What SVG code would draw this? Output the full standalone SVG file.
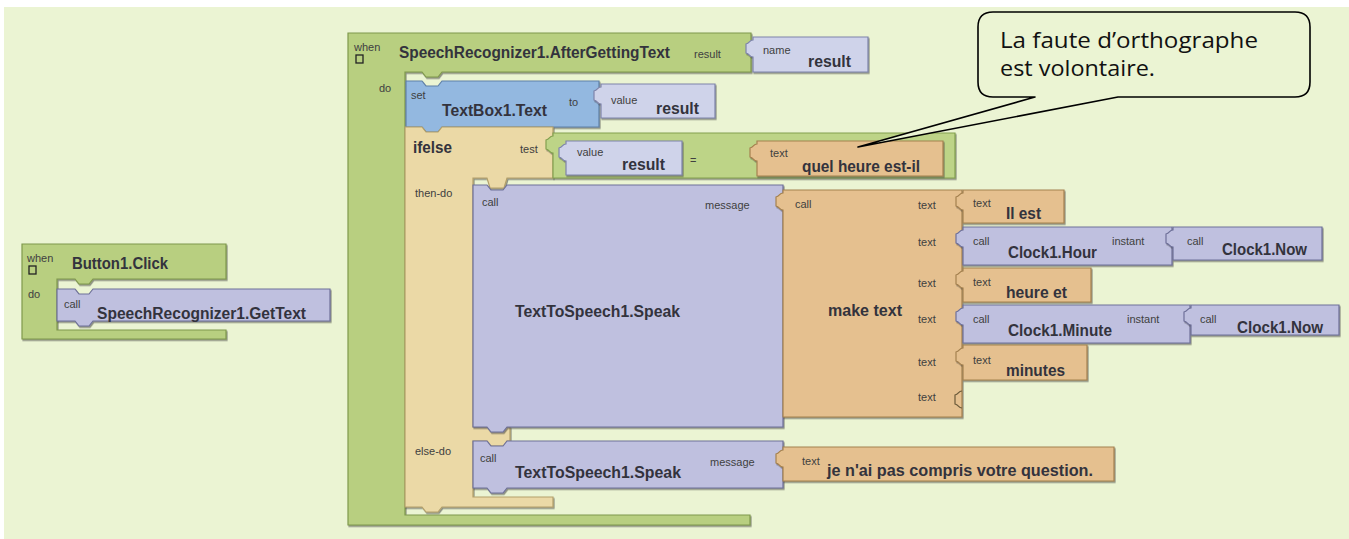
<svg xmlns="http://www.w3.org/2000/svg" width="1349" height="539" viewBox="0 0 1349 539">
<defs>
<filter id="sh" x="-5%" y="-5%" width="110%" height="115%">
<feDropShadow dx="1" dy="1.5" stdDeviation="0.4" flood-color="#404040" flood-opacity="0.55"/>
</filter>
</defs>
<style>
.blk{stroke-width:1.2;filter:url(#sh)}
.g{fill:#b8cf80;stroke:#7f984c}
.g2{fill:#bdd487;stroke:#83a050}
.tan{fill:#ebd9a6;stroke:#b3a06a}
.blue{fill:#93b8e0;stroke:#5f80a8}
.val{fill:#cfd3ea;stroke:#7e84aa}
.pur{fill:#bfc0df;stroke:#6e7099}
.txt{fill:#e5c08f;stroke:#a4814f}
.s{font-family:"Liberation Sans",Arial,sans-serif;font-size:11px;fill:#404040}
.b{font-family:"Liberation Sans",Arial,sans-serif;font-size:16px;font-weight:bold;fill:#33333d}
.sock{fill:none;stroke:#6b5a3a;stroke-width:1.2}
.call{font-family:"Open Sans","Noto Sans",sans-serif;font-size:21px;fill:#111}
</style>
<rect x="0" y="0" width="1349" height="539" fill="#ffffff"/>
<rect x="4" y="7" width="1345" height="532" fill="#ebf4d3"/>

<g id="connectors"></g>

<!-- Button1.Click event -->
<g id="button1-click">
<path class="blk g" d="M22,244 H226 V279 H93 l-4,5 h-10 l-4,-5 H57 V330 H226 V339 H22 Z"/>
<text class="s" x="27" y="262" font-size="10">when</text>
<rect x="29" y="266" width="7" height="8" fill="none" stroke="#222" stroke-width="1.3"/>
<text class="b" x="72" y="269" textLength="96" lengthAdjust="spacingAndGlyphs">Button1.Click</text>
<text class="s" x="28" y="298">do</text>
</g>
<g id="getText">
<path class="blk pur" d="M57,289 H75 l4,5 h10 l4,-5 H330 V321 H93 l-4,5 h-10 l-4,-5 H57 Z"/>
<text class="s" x="64" y="308">call</text>
<text class="b" x="97" y="319" textLength="209" lengthAdjust="spacingAndGlyphs">SpeechRecognizer1.GetText</text>
</g>

<!-- AfterGettingText event -->
<g id="after-getting-text">
<path class="blk g" d="M348,33 H751 V72 H442 l-4,5 h-12 l-4,-5 H405 V515 H750 V525 H348 Z"/>
<text class="s" x="354" y="51" font-size="10">when</text>
<rect x="356" y="55" width="7" height="8" fill="none" stroke="#222" stroke-width="1.3"/>
<text class="b" x="399" y="58" textLength="271" lengthAdjust="spacingAndGlyphs">SpeechRecognizer1.AfterGettingText</text>
<text class="s" x="694" y="58">result</text>
<text class="s" x="379" y="92">do</text>
</g>
<g id="name-result">
<path class="blk val" d="M753,37 H868 V72 H753 V57 C749,57 750,54 746,53 V44 C750,43 749,40 753,40 Z"/>
<text class="s" x="763" y="54">name</text>
<text class="b" x="808" y="67" textLength="43" lengthAdjust="spacingAndGlyphs">result</text>
</g>

<!-- set TextBox1.Text -->
<g id="set-textbox">
<path class="blk blue" d="M406,81 H422 l4,5 h12 l4,-5 H599 V127 H442 l-4,5 h-12 l-4,-5 H406 Z"/>
<text class="s" x="411" y="99">set</text>
<text class="b" x="442" y="116" textLength="105" lengthAdjust="spacingAndGlyphs">TextBox1.Text</text>
<text class="s" x="569" y="106">to</text>
</g>
<g id="set-value">
<path class="blk val" d="M601,84 H715 V118 H601 V104 C597,104 598,101 594,100 V91 C598,90 597,87 601,87 Z"/>
<text class="s" x="611" y="104">value</text>
<text class="b" x="656" y="114" textLength="43" lengthAdjust="spacingAndGlyphs">result</text>
</g>

<!-- ifelse -->
<g id="ifelse">
<path class="blk tan" d="M405,127 H422 l4,5 h12 l4,-5 H553 V178 H507 l-3,10 h-14 l-3,-10 H473 V427 H510 V441 H507 l-3,5 h-14 l-3,-5 H473 V497 H553 V507 H442 l-4,5 h-12 l-4,-5 H405 Z"/>
<text class="b" x="413" y="153" font-size="17" textLength="39" lengthAdjust="spacingAndGlyphs">ifelse</text>
<text class="s" x="520" y="153">test</text>
<text class="s" x="415" y="197">then-do</text>
<text class="s" x="415" y="455">else-do</text>
</g>

<!-- equality -->
<g id="equals">
<path class="blk g2" d="M553,133 H955 V178 H553 V153 C549,153 550,150 546,149 V140 C550,139 549,136 553,136 Z"/>
<text class="s" x="690" y="164" font-size="12">=</text>
</g>
<g id="eq-value">
<path class="blk val" d="M566,141 H682 V175 H566 V161 C562,161 563,158 559,157 V148 C563,147 562,144 566,144 Z"/>
<text class="s" x="577" y="156">value</text>
<text class="b" x="622" y="170" textLength="43" lengthAdjust="spacingAndGlyphs">result</text>
</g>
<g id="eq-text">
<path class="blk txt" d="M757,141 H943 V176 H757 V161 C753,161 754,158 750,157 V148 C754,147 753,144 757,144 Z"/>
<text class="s" x="770" y="157">text</text>
<text class="b" x="802" y="172" textLength="118" lengthAdjust="spacingAndGlyphs">quel heure est-il</text>
</g>

<!-- then-do speak -->
<g id="speak-then">
<path class="blk pur" d="M473,185 H487 l4,5 h12 l4,-5 H783 V427 H507 l-4,5 h-12 l-4,-5 H473 Z"/>
<text class="s" x="482" y="206">call</text>
<text class="s" x="705" y="209">message</text>
<text class="b" x="515" y="317" textLength="165" lengthAdjust="spacingAndGlyphs">TextToSpeech1.Speak</text>
</g>

<!-- make text -->
<g id="make-text">
<path class="blk txt" d="M783,190 H962 V417 H783 V210 C779,210 780,207 776,206 V197 C780,196 779,193 783,193 Z"/>
<text class="s" x="795" y="208">call</text>
<text class="b" x="828" y="316" textLength="74" lengthAdjust="spacingAndGlyphs">make text</text>
<text class="s" x="918" y="209">text</text>
<text class="s" x="918" y="246">text</text>
<text class="s" x="918" y="287">text</text>
<text class="s" x="918" y="323">text</text>
<text class="s" x="918" y="366">text</text>
<text class="s" x="918" y="401">text</text>
<path class="sock" d="M962,391 C958,391 959,394 955,395 V404 C959,405 958,408 962,408"/>
</g>
<g id="t-il-est">
<path class="blk txt" d="M963,190 H1064 V223 H963 V210 C959,210 960,207 956,206 V197 C960,196 959,193 963,193 Z"/>
<text class="s" x="973" y="207">text</text>
<text class="b" x="1006" y="219" textLength="35" lengthAdjust="spacingAndGlyphs">Il est</text>
</g>
<g id="clock-hour">
<path class="blk pur" d="M963,227 H1172 V265 H963 V247 C959,247 960,244 956,243 V234 C960,233 959,230 963,230 Z"/>
<text class="s" x="973" y="245">call</text>
<text class="b" x="1008" y="258" textLength="89" lengthAdjust="spacingAndGlyphs">Clock1.Hour</text>
<text class="s" x="1112" y="245">instant</text>
</g>
<g id="clock-now-1">
<path class="blk pur" d="M1173,227 H1322 V260 H1173 V247 C1169,247 1170,244 1166,243 V234 C1170,233 1169,230 1173,230 Z"/>
<text class="s" x="1187" y="245">call</text>
<text class="b" x="1222" y="255" textLength="85" lengthAdjust="spacingAndGlyphs">Clock1.Now</text>
</g>
<g id="t-heure-et">
<path class="blk txt" d="M963,268 H1091 V302 H963 V288 C959,288 960,285 956,284 V275 C960,274 959,271 963,271 Z"/>
<text class="s" x="973" y="286">text</text>
<text class="b" x="1006" y="298" textLength="61" lengthAdjust="spacingAndGlyphs">heure et</text>
</g>
<g id="clock-minute">
<path class="blk pur" d="M963,305 H1190 V343 H963 V325 C959,325 960,322 956,321 V312 C960,311 959,308 963,308 Z"/>
<text class="s" x="973" y="323">call</text>
<text class="b" x="1008" y="336" textLength="104" lengthAdjust="spacingAndGlyphs">Clock1.Minute</text>
<text class="s" x="1127" y="323">instant</text>
</g>
<g id="clock-now-2">
<path class="blk pur" d="M1191,305 H1339 V335 H1191 V325 C1187,325 1188,322 1184,321 V312 C1188,311 1187,308 1191,308 Z"/>
<text class="s" x="1200" y="323">call</text>
<text class="b" x="1237" y="333" textLength="86" lengthAdjust="spacingAndGlyphs">Clock1.Now</text>
</g>
<g id="t-minutes">
<path class="blk txt" d="M963,345 H1087 V380 H963 V365 C959,365 960,362 956,361 V352 C960,351 959,348 963,348 Z"/>
<text class="s" x="973" y="364">text</text>
<text class="b" x="1006" y="376" textLength="59" lengthAdjust="spacingAndGlyphs">minutes</text>
</g>

<!-- else-do speak -->
<g id="speak-else">
<path class="blk pur" d="M473,441 H487 l4,5 h12 l4,-5 H783 V488 H507 l-4,5 h-12 l-4,-5 H473 Z"/>
<text class="s" x="480" y="462">call</text>
<text class="s" x="710" y="466">message</text>
<text class="b" x="515" y="478" textLength="166" lengthAdjust="spacingAndGlyphs">TextToSpeech1.Speak</text>
</g>
<g id="t-question">
<path class="blk txt" d="M783,447 H1114 V481 H783 V467 C779,467 780,464 776,463 V454 C780,453 779,450 783,450 Z"/>
<text class="s" x="802" y="465">text</text>
<text class="b" x="827" y="476" textLength="266" lengthAdjust="spacingAndGlyphs">je n'ai pas compris votre question.</text>
</g>

<!-- callout -->
<g id="callout">
<path d="M1035,97 L858,147 L1118,97 H1295 Q1310,97 1310,82 V27 Q1310,12 1295,12 H993 Q978,12 978,27 V82 Q978,97 993,97 Z" fill="#ebf4d3" stroke="#000" stroke-width="1.6" stroke-linejoin="round"/>
<text class="call" x="1000" y="48" textLength="258" lengthAdjust="spacingAndGlyphs">La faute d’orthographe</text>
<text class="call" x="1000" y="76" textLength="155" lengthAdjust="spacingAndGlyphs">est volontaire.</text>
</g>
</svg>
